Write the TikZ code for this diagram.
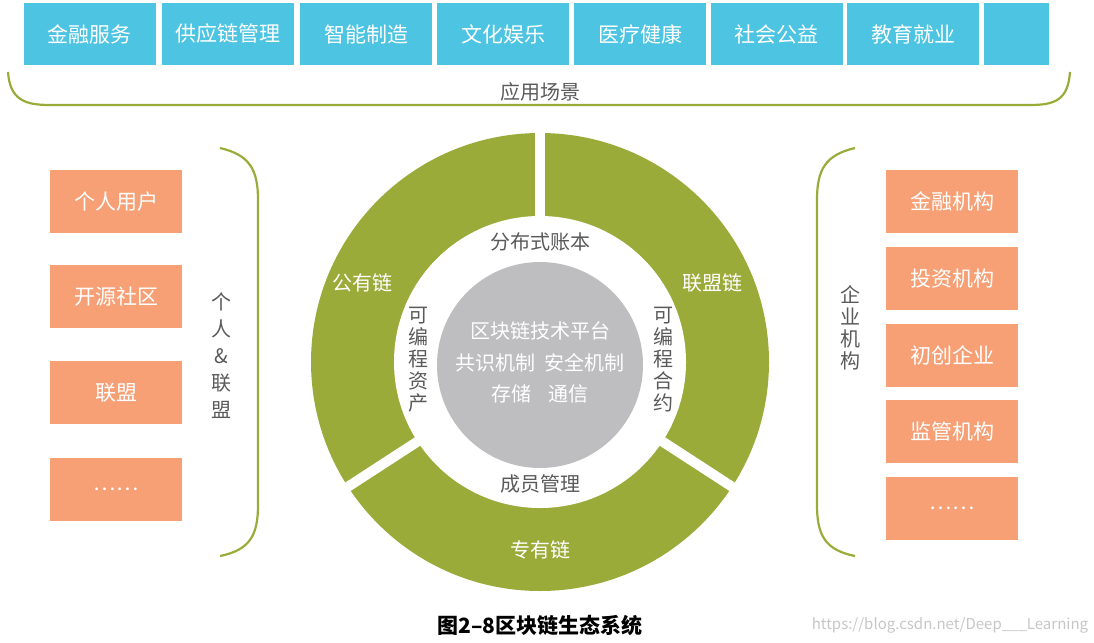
\documentclass[tikz,border=0pt]{standalone}
\usepackage{fontspec}
\setmainfont{Noto Sans CJK SC}
\definecolor{sceneblue}{RGB}{76,196,226}
\definecolor{userorange}{RGB}{247,160,118}
\definecolor{ringgreen}{RGB}{155,171,58}
\definecolor{coregray}{RGB}{190,190,193}
\definecolor{labelgray}{RGB}{90,90,90}
\tikzset{
  scene/.style={rectangle, fill=sceneblue, minimum width=132pt, minimum height=62pt, text=white, font=\fontsize{21}{24}\selectfont},
  member/.style={rectangle, fill=userorange, minimum width=132pt, minimum height=63pt, text=white, font=\fontsize{21}{24}\selectfont},
  brace/.style={draw=ringgreen, line width=2.2pt},
  ringtext/.style={text=white, font=\fontsize{20}{23}\selectfont},
  graytext/.style={text=labelgray, font=\fontsize{20}{23}\selectfont},
  coretext/.style={text=white, font=\fontsize{20}{23}\selectfont},
  vtext/.style={text=labelgray, font=\fontsize{20}{22}\selectfont, align=center}
}
\begin{document}
\begin{tikzpicture}[x=1pt,y=-1pt]
\useasboundingbox (0,0) rectangle (1094,642);

%% scenes
\foreach \cx/\name/\txt in {89.5/s1/金融服务, 228/s2/供应链管理, 366/s3/智能制造, 503/s4/文化娱乐, 640/s5/医疗健康, 776.5/s6/社会公益, 913/s7/教育就业}
  \node (\name) [scene] at (\cx,34) {\txt};
\node (s8) [scene, minimum width=65pt] at (1016.5,34) {};
\draw [brace] (8,72) .. controls (10,100) and (25,105) .. (50,105) -- (1030,105) .. controls (1055,105) and (1068,100) .. (1070,72);
\node (scenes) [graytext] at (540,92) {应用场景};

%% ring
\fill [ringgreen] (540,362) circle (229pt);
\fill [white] (540,362) circle (146pt);
\foreach \a in {90,213,327}
  \draw [white, line width=10pt] (540,362) -- ++({240*cos(\a)},{-240*sin(\a)});
\fill [coregray] (540,365) circle (103pt);
\node (public) [ringtext] at (362,283) {公有链};
\node (alliance) [ringtext] at (712,283) {联盟链};
\node (private) [ringtext] at (540,550) {专有链};
\node (ledger) [graytext] at (540,242) {分布式账本};
\node (members) [graytext] at (540,484) {成员管理};
\node (asset) [vtext] at (418,360) {可\\编\\程\\资\\产};
\node (contract) [vtext] at (663,360) {可\\编\\程\\合\\约};
\node (core1) [coretext] at (540,331) {区块链技术平台};
\node (core2) [coretext] at (540,363) {共识机制\ \ 安全机制};
\node (core3) [coretext] at (540,394) {存储\ \ \ \ 通信};

%% left side
\foreach \cy/\name/\txt in {201.5/u1/个人用户, 296.5/u2/开源社区, 392.5/u3/联盟, 489.5/u4/\textellipsis\textellipsis}
  \node (\name) [member] at (116,\cy) {\txt};
\draw [brace] (220,148) .. controls (250,155) and (258,170) .. (258,200) -- (258,505) .. controls (258,535) and (250,550) .. (220,556);
\node (personal) [vtext, font=\fontsize{20}{27}\selectfont] at (221,356) {个\\人\\\&\\联\\盟};

%% right side
\foreach \cy/\name/\txt in {201.5/e1/金融机构, 278.5/e2/投资机构, 355.5/e3/初创企业, 431.5/e4/监管机构, 508.5/e5/\textellipsis\textellipsis}
  \node (\name) [member] at (952,\cy) {\txt};
\draw [brace] (855,148) .. controls (825,155) and (817,170) .. (817,200) -- (817,505) .. controls (817,535) and (825,550) .. (855,556);
\node (enterprise) [vtext] at (850,328) {企\\业\\机\\构};

%% caption
\node (caption) [font=\bfseries\fontsize{21}{24}\selectfont] at (540,625) {图2–8区块链生态系统};
\node (mark) [text=gray!45, font=\fontsize{15}{18}\selectfont] at (950,625) {https://blog.csdn.net/Deep\_\_\_Learning};
\end{tikzpicture}
\end{document}
